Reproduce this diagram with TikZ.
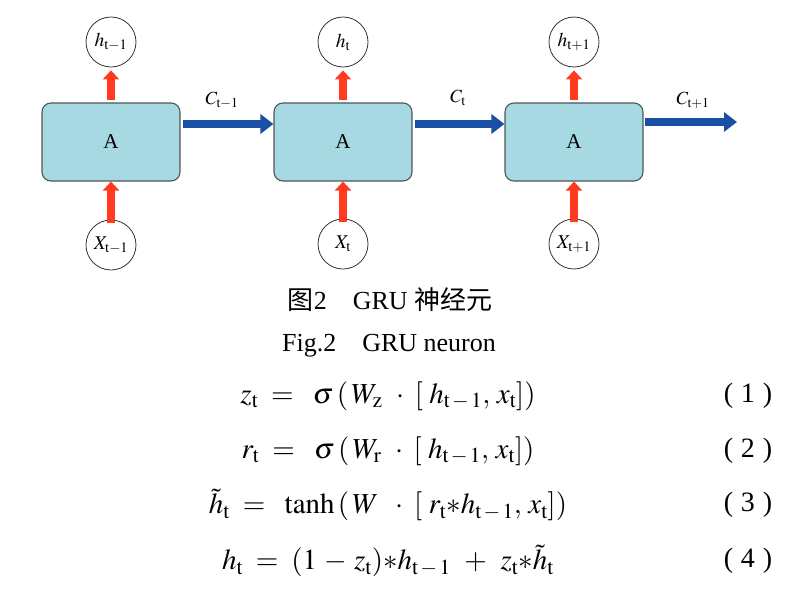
\documentclass[tikz,border=0pt]{standalone}
\usepackage{mathptmx}
\usepackage{fontspec}
\setmainfont{Liberation Serif}
\newfontfamily\cjk{Noto Sans CJK SC}
\usetikzlibrary{arrows.meta}
\definecolor{cellfill}{HTML}{A6D9E1}
\definecolor{celledge}{HTML}{505558}
\definecolor{redarrow}{HTML}{FF3A1E}
\definecolor{bluearrow}{HTML}{1A4FA6}
\newcommand{\sbt}[1]{_{\mathrm{#1}}}
\tikzset{
  cell/.style={draw=celledge, fill=cellfill, line width=1.1pt, rounded corners=9pt,
    minimum width=138pt, minimum height=78pt, inner sep=0pt, font=\fontsize{21}{23}\selectfont},
  state/.style={draw=black!80, circle, line width=0.8pt, minimum size=50pt, inner sep=0pt,
    font=\fontsize{19.5}{21}\selectfont},
  redarr/.style={draw=redarrow, line width=8.5pt, -{Triangle[width=16pt,length=9pt]}},
  bluearr/.style={draw=bluearrow, line width=8pt, -{Triangle[width=19pt,length=13pt]}},
  clabel/.style={font=\fontsize{18.5}{20}\selectfont},
  eqn/.style={font=\fontsize{29}{32}\selectfont, anchor=center},
  eqnum/.style={font=\fontsize{28}{32}\selectfont, anchor=center},
  captext/.style={font=\fontsize{26}{28}\selectfont}
}
\begin{document}
\begin{tikzpicture}[x=1pt,y=-1pt]
\useasboundingbox (0,0) rectangle (791,592);
% cells
\node[cell] (b1) at (111,142) {A};
\node[cell] (b2) at (343,142) {A};
\node[cell] (b3) at (574,142) {A};
% outputs
\node[state] (h1) at (111,42) {$h\sbt{t-1}$};
\node[state] (h2) at (343,42) {$h\sbt{t}$};
\node[state] (h3) at (574,42) {$h\sbt{t+1}$};
% inputs
\node[state] (x1) at (111,245) {$X\sbt{t-1}$};
\node[state] (x2) at (343,244) {$X\sbt{t}$};
\node[state] (x3) at (574,244) {$X\sbt{t+1}$};
% red arrows
\foreach \i in {1,2,3}{
  \draw[redarr, shorten <=2pt, shorten >=3pt] (b\i.north) -- (h\i.south);
  \draw[redarr, shorten <=-3pt] (x\i.north) -- (b\i.south);
}
% blue arrows
\coordinate (end) at (737,122);
\draw[bluearr] ([yshift=18pt]b1.east) ++(2,0) -- ([yshift=18pt]b2.west);
\draw[bluearr] ([yshift=18pt]b2.east) ++(2,0) -- ([yshift=18pt]b3.west);
\draw[bluearr] ([yshift=20pt]b3.east) ++(1,0) -- (end);
\node[clabel] (c1) at (222,100) {$C\sbt{t-1}$};
\node[clabel] (c2) at (458,98) {$C\sbt{t}$};
\node[clabel] (c3) at (693,100) {$C\sbt{t+1}$};
% captions
\node[captext] (cap1) at (390,300) {{\cjk 图}2\quad GRU {\cjk 神经元}};
\node[captext] (cap2) at (389,346) {Fig.2\quad GRU neuron};
% equations
\node[eqn] (e1) at (388,396) {$z\sbt t \;=\;\; \sigma\,(\,W\sbt z\;\,\cdot\;[\;h\sbt{t\,-\,1}, \,x\sbt t])$};
\node[eqn] (e2) at (388,451) {$r\sbt t \;=\;\; \sigma\,(\,W\sbt r\;\,\cdot\;[\;h\sbt{t\,-\,1}, \,x\sbt t])$};
\node[eqn] (e3) at (388,505) {$\tilde h\sbt t \;=\;\; \tanh\,(\,W\;\;\cdot\;[\;r\sbt t{*}h\sbt{t\,-\,1}, \,x\sbt t])$};
\node[eqn] (e4) at (388,561) {$h\sbt t \;=\; (1\,-\,z\sbt t){*}h\sbt{t\,-\,1} \;\,+\;\, z\sbt t{*}\tilde h\sbt t$};
\node[eqnum] (n1) at (748,396) {(\;1\;)};
\node[eqnum] (n2) at (748,451) {(\;2\;)};
\node[eqnum] (n3) at (748,505) {(\;3\;)};
\node[eqnum] (n4) at (748,561) {(\;4\;)};
\end{tikzpicture}
\end{document}
